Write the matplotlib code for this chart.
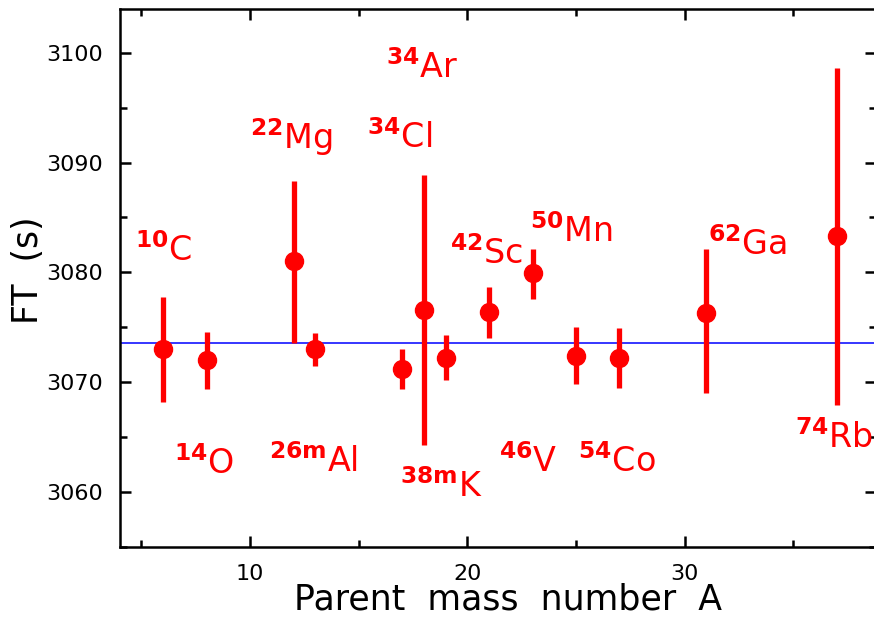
import matplotlib
matplotlib.use("Agg")
import matplotlib.pyplot as plt
from matplotlib.ticker import MultipleLocator

# parent Z, corrected Ft values (s) and error bars
z = [6, 8, 12, 13, 17, 18, 19, 21, 23, 25, 27, 31, 37]
ft = [3073.0, 3072.0, 3081.0, 3073.0, 3071.2, 3076.6, 3072.2,
      3076.4, 3079.9, 3072.4, 3072.2, 3076.3, 3083.3]
err_lo = [4.8, 2.6, 7.4, 1.5, 1.8, 12.3, 2.0, 2.4, 2.3, 2.6, 2.7, 7.3, 15.4]
err_hi = [4.8, 2.6, 7.3, 1.5, 1.8, 12.3, 2.1, 2.3, 2.2, 2.6, 2.7, 5.8, 15.3]
ft_avg = 3073.6

# nuclide labels: mass number (superscript), symbol, label position
lab_mass = ["10", "14", "22", "26m", "34", "34", "38m", "42", "46", "50", "54", "62", "74"]
lab_sym = ["C", "O", "Mg", "Al", "Cl", "Ar", "K", "Sc", "V", "Mn", "Co", "Ga", "Rb"]
lab_x = [6.0, 7.9, 11.9, 12.9, 16.9, 17.9, 18.8, 20.9, 22.8, 24.8, 26.9, 32.9, 36.9]
lab_y = [3082.0, 3062.6, 3092.3, 3062.8, 3092.3, 3098.6, 3060.5,
         3081.7, 3062.8, 3083.7, 3062.8, 3082.5, 3065.0]

fig = plt.figure(figsize=(8.74, 6.23), dpi=100)
ax = fig.add_axes([0.137, 0.122, 0.865, 0.864])

ax.axhline(ft_avg, color="#0000ff", lw=1.1, zorder=1)
ax.errorbar(z, ft, yerr=[err_lo, err_hi], fmt="o", color="#ff0000",
            ms=13, elinewidth=3.8, capsize=0, zorder=3)

for m, s, x, y in zip(lab_mass, lab_sym, lab_x, lab_y):
    ax.text(x, y, r"$^{\mathbf{%s}}$%s" % (m, s), color="#ff0000",
            fontsize=24, ha="center", va="center")

ax.set_xlim(4, 38.8)
ax.set_ylim(3055, 3104)
ax.xaxis.set_major_locator(MultipleLocator(10))
ax.xaxis.set_minor_locator(MultipleLocator(5))
ax.yaxis.set_major_locator(MultipleLocator(10))
ax.yaxis.set_minor_locator(MultipleLocator(5))
ax.tick_params(which="both", direction="in", top=True, right=True,
               width=1.8, pad=12, labelsize=16)
ax.tick_params(which="major", length=8)
ax.tick_params(which="minor", length=5)
for sp in ax.spines.values():
    sp.set_linewidth(1.8)

ax.set_xlabel("Parent  mass  number  A", fontsize=25)
ax.xaxis.set_label_coords(0.513, -0.098)
ax.xaxis.label.set_va("center")
ax.set_ylabel("FT  (s)", fontsize=25)
ax.yaxis.set_label_coords(-0.122, 0.515)
ax.yaxis.label.set_va("center")

fig.savefig("out.png", dpi=100)
